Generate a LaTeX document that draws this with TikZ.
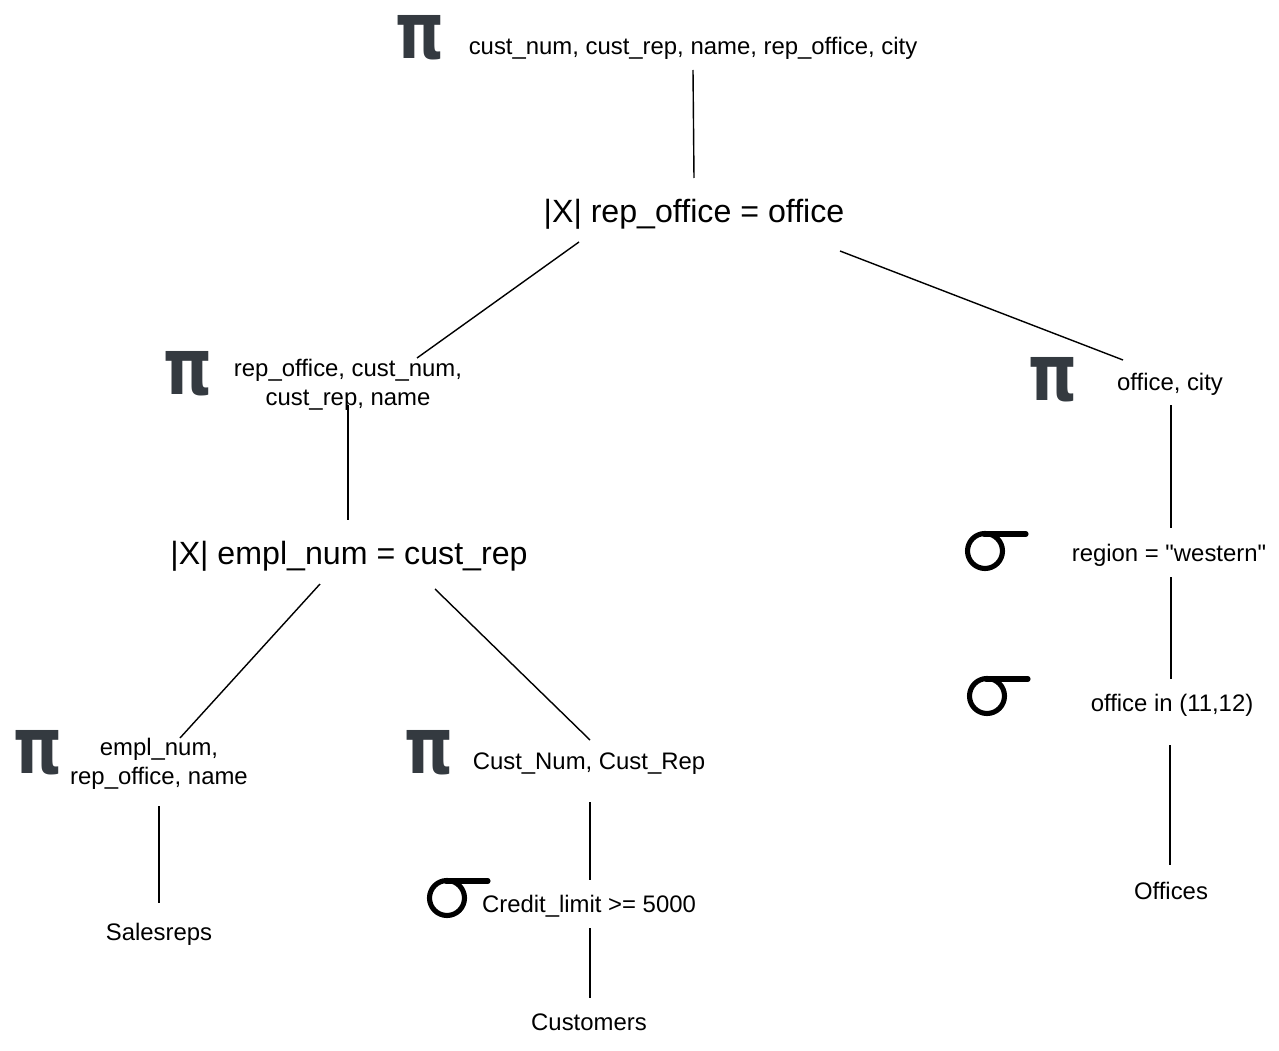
\documentclass[tikz,border=0pt]{standalone}
\usepackage{fontspec}
\setmainfont{Liberation Sans}[Ligatures=TeXOff]
\newfontfamily\pifont{DejaVu Sans}
\usetikzlibrary{calc}
\definecolor{pigray}{HTML}{343A40}
\newcommand{\piglyph}{\scalebox{0.88}[1.12]{π}}
\begin{document}
\begin{tikzpicture}[x=0.02cm,y=-0.02cm,line width=0.8pt]
\path [use as bounding box] (0,0) rectangle (1279,1051);
\tikzstyle{label} = [font=\fontsize{13.6}{16.5}\selectfont, align=center, inner sep=0pt]
\tikzstyle{joinop} = [font=\fontsize{18.3}{22}\selectfont, inner sep=0pt]
\tikzstyle{piop} = [font=\pifont\bfseries\fontsize{40}{40}\selectfont, text=pigray, inner sep=0pt]
\tikzstyle{sig} = [line width=2.9pt, line cap=round]
% projections
\node[piop] (p0) at (420,38) {\piglyph};
\node[label] (t0) at (693,48) {cust\_num, cust\_rep, name, rep\_office, city};
\node[joinop] (j0) at (694,214) {|X| rep\_office = office};
\node[piop] (p1) at (188,374) {\piglyph};
\node[label] (t1) at (348,385) {rep\_office, cust\_num,\\cust\_rep, name};
\node[piop] (p2) at (1053,380) {\piglyph};
\node[label] (t2) at (1170,384) {office, city};
\node[joinop] (j1) at (349,556) {|X| empl\_num = cust\_rep};
\node[label] (t3) at (1169,555) {region = "western"};
\node[label] (t4) at (1172,705) {office in (11,12)};
\node[label] (t5) at (1171,891) {Offices};
\node[piop] (p3) at (38,753) {\piglyph};
\node[label] (t6) at (159,764) {empl\_num,\\rep\_office, name};
\node[piop] (p4) at (429,753) {\piglyph};
\node[label] (t7) at (589,764) {Cust\_Num, Cust\_Rep};
\node[label] (t8) at (159,934) {Salesreps};
\node[label] (t9) at (589,906) {Credit\_limit >= 5000};
\node[label] (t10) at (589,1022) {Customers};
% selections
\foreach \n/\x/\y in {s1/985/551, s2/987/696, s3/447/898} {
  \coordinate (\n) at (\x,\y);
  \draw[sig] (\n) circle (0.35cm);
  \draw[sig] ($(\n)+(-1,-17)$) -- ($(\n)+(41,-17)$);
}
% tree edges
\draw ($(t0)+(0,22)$) -- ($(j0)+(0,-36)$);
\draw ($(j0)+(-115,28)$) -- ($(t1)+(69,-27)$);
\draw ($(j0)+(146,37)$) -- ($(t2)+(-47,-24)$);
\draw ($(t1)+(0,20)$) -- ($(j1)+(-1,-36)$);
\draw ($(t2)+(1,21)$) -- ($(t3)+(2,-27)$);
\draw ($(t3)+(2,22)$) -- ($(t4)+(-1,-26)$);
\draw ($(t4)+(-2,40)$) -- ($(t5)+(-1,-26)$);
\draw ($(j1)+(-29,28)$) -- ($(t6)+(21,-26)$);
\draw ($(j1)+(86,33)$) -- ($(t7)+(1,-24)$);
\draw ($(t6)+(0,42)$) -- ($(t8)+(0,-31)$);
\draw ($(t7)+(1,38)$) -- ($(t9)+(1,-26)$);
\draw ($(t9)+(1,22)$) -- ($(t10)+(1,-24)$);
\end{tikzpicture}
\end{document}
